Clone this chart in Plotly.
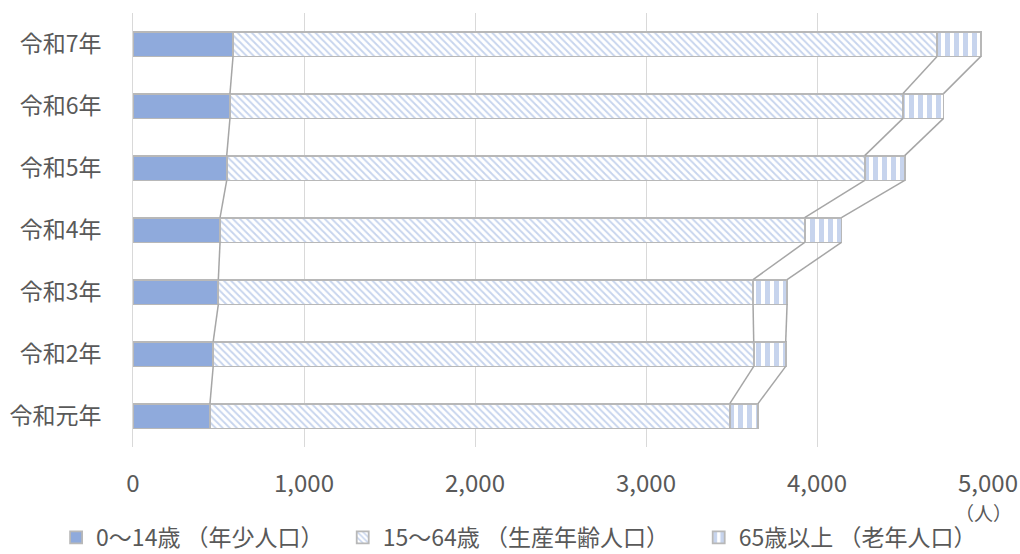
import plotly.graph_objects as go

# Population by age group (persons)
categories = ["令和元年", "令和2年", "令和3年", "令和4年", "令和5年", "令和6年", "令和7年"]
young = [450, 469, 499, 509, 548, 567, 585]          # 0〜14歳
working = [3040, 3161, 3127, 3419, 3731, 3936, 4117]  # 15〜64歳
old = [165, 187, 199, 215, 234, 237, 256]             # 65歳以上

series_names = ["0～14歳 （年少人口）", "15～64歳 （生産年齢人口）", "65歳以上 （老年人口）"]
x_ticks = [0, 1000, 2000, 3000, 4000, 5000]

BLUE = "#8faadc"
EDGE = "#b8b8b8"
FONT = "Noto Sans CJK JP"
TEXT = "#595959"
BARGAP = 0.6
half = (1 - BARGAP) / 2

ypos = list(range(len(categories)))

fig = go.Figure()

fig.add_trace(go.Bar(
    y=ypos, x=young, orientation="h", name=series_names[0], legend="legend",
    marker=dict(color=BLUE, line=dict(color=EDGE, width=1.8)),
))
fig.add_trace(go.Bar(
    y=ypos, x=working, orientation="h", name=series_names[1], legend="legend2",
    marker=dict(color="white", line=dict(color=EDGE, width=1.8),
                pattern=dict(shape="\\", fgcolor=BLUE, bgcolor="white",
                             size=5, solidity=0.38)),
))
fig.add_trace(go.Bar(
    y=ypos, x=old, orientation="h", name=series_names[2], legend="legend3",
    marker=dict(color="white", line=dict(color=EDGE, width=1.8),
                pattern=dict(shape="|", fgcolor=BLUE, bgcolor="white",
                             size=9, solidity=0.55)),
))

# Series lines joining segment boundaries of neighbouring bars
cum1 = young
cum2 = [a + b for a, b in zip(young, working)]
cum3 = [a + b + c for a, b, c in zip(young, working, old)]
for cum in (cum1, cum2, cum3):
    xs, ys = [], []
    for i in range(len(ypos) - 1):
        xs += [cum[i + 1], cum[i], None]
        ys += [ypos[i + 1] - half, ypos[i] + half, None]
    fig.add_trace(go.Scatter(
        x=xs, y=ys, mode="lines", showlegend=False, hoverinfo="skip",
        line=dict(color="#a6a6a6", width=1.5),
    ))


def legend_box(x_left):
    return dict(
        orientation="h", xref="container", yref="container",
        x=x_left, xanchor="left", y=0.03, yanchor="middle",
        font=dict(size=23, color=TEXT), itemwidth=30,
        bgcolor="rgba(0,0,0,0)",
    )


fig.update_layout(
    width=1020, height=554,
    barmode="stack", bargap=BARGAP,
    paper_bgcolor="white", plot_bgcolor="white",
    margin=dict(l=133, r=32, t=13, b=107, autoexpand=False),
    font=dict(family=FONT, color=TEXT, size=22),
    showlegend=True,
    legend=legend_box(0.055),
    legend2=legend_box(0.336),
    legend3=legend_box(0.685),
)

fig.update_xaxes(
    range=[0, 5000], tickvals=x_ticks, tickformat=",d",
    showgrid=True, gridcolor="#d9d9d9", gridwidth=1,
    zeroline=False, showline=False,
    ticks="outside", ticklen=15, tickcolor="rgba(0,0,0,0)",
    tickfont=dict(size=24, color=TEXT), automargin=False,
)
fig.update_yaxes(
    range=[-0.5, len(categories) - 0.5], tickvals=ypos, ticktext=categories,
    showgrid=False, zeroline=False,
    showline=True, linecolor="#d9d9d9", linewidth=1,
    ticks="outside", ticklen=26, tickcolor="rgba(0,0,0,0)",
    tickfont=dict(size=23, color=TEXT), automargin=False,
)

fig.add_annotation(
    text="（人）", xref="paper", yref="paper", x=0.995, y=-0.152,
    xanchor="center", yanchor="middle", showarrow=False,
    font=dict(size=19, color=TEXT, family=FONT),
)

fig.write_html("out.html")
